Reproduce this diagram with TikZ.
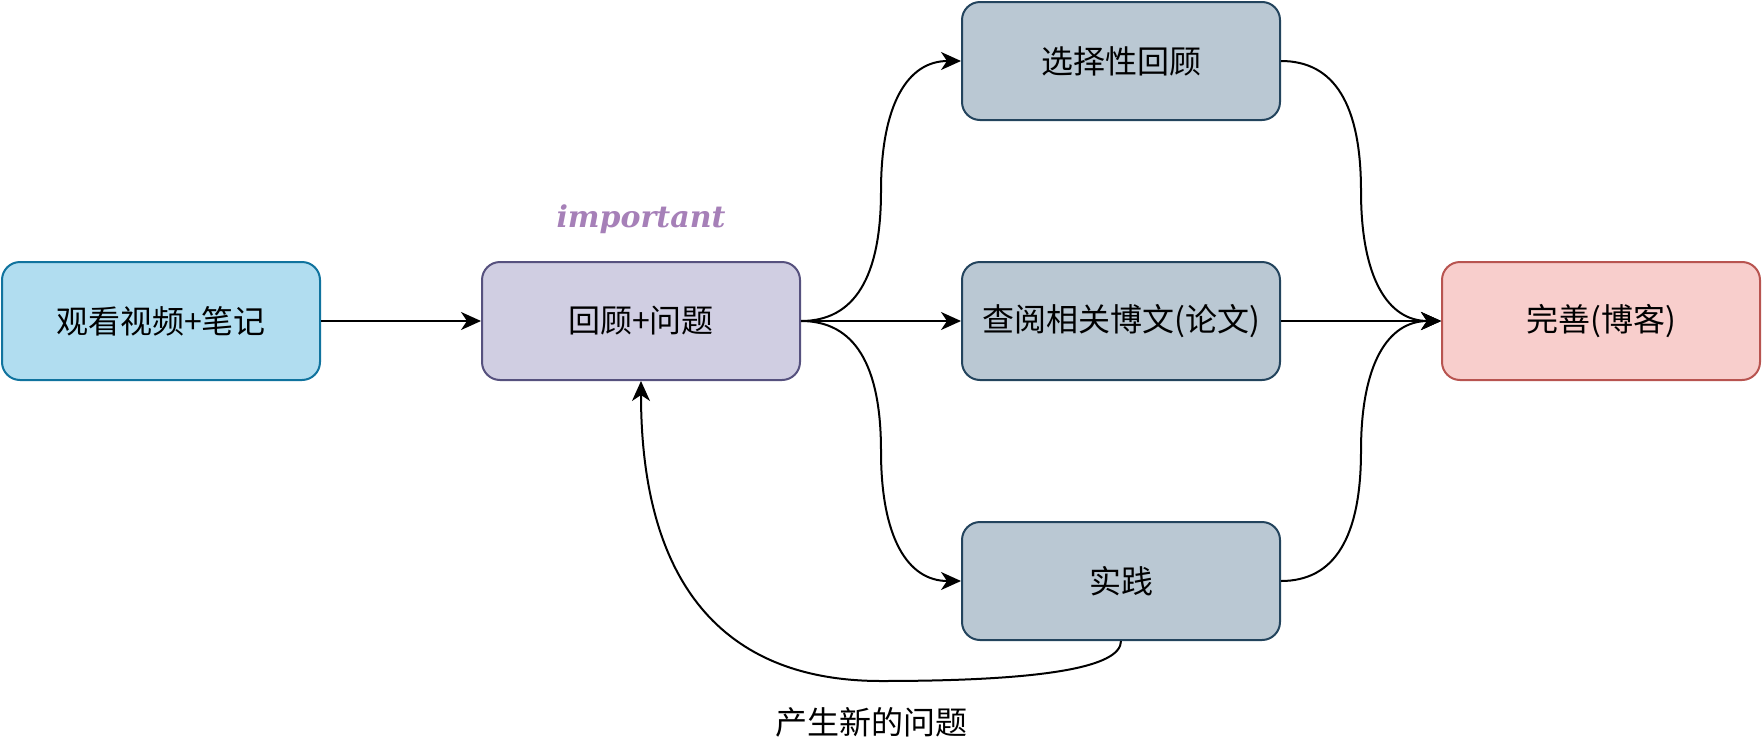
\documentclass[tikz,border=0pt]{standalone}
\usepackage{fontspec}
\setmainfont{Noto Sans CJK SC}
\newfontfamily\serifword{DejaVu Serif}
\usepackage{tikz}
\usetikzlibrary{positioning}
\usetikzlibrary{calc}
\usetikzlibrary{arrows.meta}

\definecolor{watchfill}{HTML}{B1DDF0}
\definecolor{watchline}{HTML}{10739E}
\definecolor{reviewfill}{HTML}{D0CEE2}
\definecolor{reviewline}{HTML}{56517E}
\definecolor{stepfill}{HTML}{BAC8D3}
\definecolor{stepline}{HTML}{23445D}
\definecolor{blogfill}{HTML}{F8CECC}
\definecolor{blogline}{HTML}{B85450}
\definecolor{imptext}{HTML}{A680B8}

\tikzset{
  box/.style={draw, rounded corners=18pt, line width=2pt,
    minimum width=318pt, minimum height=118pt,
    font=\fontsize{32pt}{38pt}\selectfont},
  stepbox/.style={box, fill=stepfill, draw=stepline},
  flow/.style={line width=2pt, -{Stealth[length=20pt,width=18pt,inset=6pt]}},
}

\begin{document}
\begin{tikzpicture}[x=1pt,y=-1pt,node distance=260pt and 480pt,on grid]
        \useasboundingbox (0,0) rectangle (1762,742);

      \node[box, fill=watchfill, draw=watchline] (watch) at (161,321) {观看视频+笔记};
      \node[box, fill=reviewfill, draw=reviewline, right=of watch]  (review)   {回顾+问题};
      \node[stepbox, right=of review]                               (search)   {查阅相关博文(论文)};
      \node[stepbox, above=of search]                               (select)   {选择性回顾};
      \node[stepbox, below=of search]                               (practice) {实践};
      \node[box, fill=blogfill, draw=blogline, right=of search]     (blog)     {完善(博客)};

      \node[above=102pt of review, text=imptext,
            font=\serifword\bfseries\itshape\fontsize{30pt}{36pt}\selectfont] (imp) {important};

      % turning points of the curved links
      \coordinate (lm) at ($(review.east)!0.5!(select.west)$);
      \coordinate (lb) at ($(review.east)!0.5!(practice.west)$);
      \coordinate (rm) at ($(select.east)!0.5!(blog.west)$);
      \coordinate (rb) at ($(practice.east)!0.5!(blog.west)$);
      \coordinate (la) at (review.east -| lm);
      \coordinate (lt) at (lm |- select.west);
      \coordinate (lc) at (lb |- practice.west);
      \coordinate (ra) at (select.east -| rm);
      \coordinate (rt) at (rm |- blog.west);
      \coordinate (rc) at (practice.east -| rb);
      \coordinate (fb) at ($(practice.south)+(0,40)$);
      \coordinate (fl) at (review.south |- fb);
      \coordinate (fm) at ($(fb)!0.5!(fl)$);

      \node[font=\fontsize{32pt}{38pt}\selectfont] (newq) at ($(fm)+(-10,41)$) {产生新的问题};

      \draw[flow] (watch) -- (review);
      \draw[flow] (review) -- (search);
      \draw[flow] (search) -- (blog);

      \draw[flow] (review.east) .. controls ($(review.east)!2/3!(la)$) and ($(lm)!2/3!(la)$) .. (lm)
                  .. controls ($(lm)!2/3!(lt)$) and ($(select.west)!2/3!(lt)$) .. (select.west);
      \draw[flow] (review.east) .. controls ($(review.east)!2/3!(la)$) and ($(lb)!2/3!(la)$) .. (lb)
                  .. controls ($(lb)!2/3!(lc)$) and ($(practice.west)!2/3!(lc)$) .. (practice.west);
      \draw[flow] (select.east) .. controls ($(select.east)!2/3!(ra)$) and ($(rm)!2/3!(ra)$) .. (rm)
                  .. controls ($(rm)!2/3!(rt)$) and ($(blog.west)!2/3!(rt)$) .. (blog.west);
      \draw[flow] (practice.east) .. controls ($(practice.east)!2/3!(rc)$) and ($(rb)!2/3!(rc)$) .. (rb)
                  .. controls ($(rb)!2/3!(rt)$) and ($(blog.west)!2/3!(rt)$) .. (blog.west);

      \draw[flow] (practice.south) .. controls ($(practice.south)!2/3!(fb)$) and ($(fm)!2/3!(fb)$) .. (fm)
                  .. controls ($(fm)!2/3!(fl)$) and ($(review.south)!2/3!(fl)$) .. (review.south);
    \end{tikzpicture}
\end{document}
